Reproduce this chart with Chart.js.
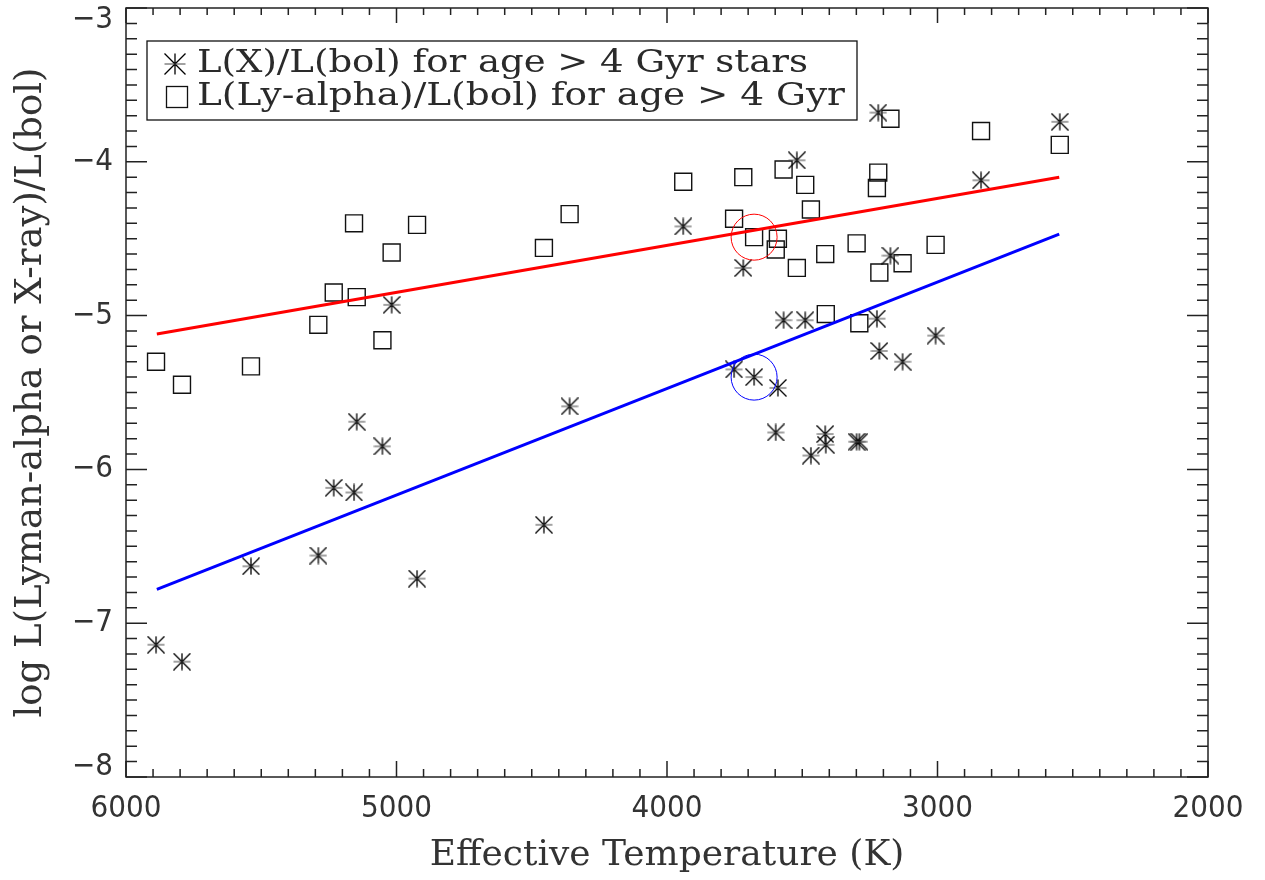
<!DOCTYPE html>
<html>
<head>
<meta charset="utf-8">
<script src="https://cdn.jsdelivr.net/npm/chart.js@4.4.1/dist/chart.umd.min.js"></script>
<style>
html, body { margin: 0; padding: 0; background: #fff; }
#wrap { width: 1265px; height: 880px; }
</style>
</head>
<body>
<div id="wrap"><canvas id="lyaChart" width="1265" height="880"></canvas></div>
<script>
// effective temperatures (K), one per star
const temps = [5889, 5793, 5538, 5289, 5232, 5157, 5147, 5052, 5018, 4924, 4455, 4360,
               3940, 3752, 3718, 3678, 3598, 3590, 3569, 3520, 3489, 3468, 3415, 3413,
               3299, 3289, 3224, 3219, 3215, 3174, 3129, 3007, 2839, 2548];
// log L(Ly-alpha)/L(bol)
const lyaRatio = [-5.30, -5.45, -5.33, -5.06, -4.85, -4.40, -4.88, -5.16, -4.59, -4.41, -4.56, -4.34,
                  -4.13, -4.37, -4.10, -4.49, -4.57, -4.50, -4.05, -4.69, -4.15, -4.31, -4.60, -4.99,
                  -4.53, -5.05, -4.17, -4.07, -4.72, -3.72, -4.66, -4.54, -3.80, -3.89];
// log L(X)/L(bol)
const xrayRatio = [-7.14, -7.25, -6.63, -6.56, -6.12, -6.15, -5.69, -5.85, -4.93, -6.71, -6.36, -5.59,
                   -4.42, -5.35, -4.69, -5.40, -5.76, -5.47, -5.03, -3.99, -5.03, -5.91, -5.77, -5.84,
                   -5.82, -5.82, -5.02, -3.68, -5.23, -4.61, -5.30, -5.13, -4.12, -3.74];
// fitted trends
const fitTemps = [5886, 2550];
const lyaFit = [-5.12, -4.10];
const xrayFit = [-6.78, -4.47];
// highlighted star
const markTemp = [3678];
const markLya = [-4.49];
const markXray = [-5.40];
const legendLabels = ['L(X)/L(bol) for age > 4 Gyr stars', 'L(Ly-alpha)/L(bol) for age > 4 Gyr'];

const tickFont = '31px "DejaVu Sans Condensed", "DejaVu Sans", sans-serif';

function makeAsterisk(size) {
    const c = document.createElement('canvas');
    c.width = size; c.height = size;
    const g = c.getContext('2d');
    const h = size / 2, e = 0.5;
    g.lineWidth = 1.3;
    g.strokeStyle = '#000';
    g.beginPath();
    g.moveTo(h, e); g.lineTo(h, size - e);
    g.moveTo(e, e); g.lineTo(size - e, size - e);
    g.moveTo(size - e, e); g.lineTo(e, size - e);
    g.stroke();
    g.strokeStyle = '#444';
    g.lineWidth = 1;
    g.beginPath();
    g.moveTo(e, h); g.lineTo(size - e, h);
    g.stroke();
    return c;
}
const star = makeAsterisk(18);
const starBig = makeAsterisk(22);

const pts = (xs, ys) => xs.map((x, i) => ({ x: x, y: ys[i] }));

const frameTicks = {
    id: 'frameTicks',
    afterDraw(chart) {
        const { ctx, chartArea: a, scales: { x, y } } = chart;
        ctx.save();
        ctx.strokeStyle = '#222';
        ctx.lineWidth = 1.5;
        ctx.strokeRect(a.left, a.top, a.right - a.left, a.bottom - a.top);
        ctx.beginPath();
        for (let t = 2000; t <= 6000; t += 100) {
            const px = x.getPixelForValue(t);
            const major = t % 1000 === 0;
            ctx.moveTo(px, a.bottom); ctx.lineTo(px, a.bottom - (major ? 16 : 8));
            ctx.moveTo(px, a.top); ctx.lineTo(px, a.top + (major ? 15 : 7));
        }
        for (let i = 0; i <= 50; i++) {
            const py = y.getPixelForValue(-8 + i / 10);
            const len = i % 10 === 0 ? 21 : 11;
            ctx.moveTo(a.left, py); ctx.lineTo(a.left + len, py);
            ctx.moveTo(a.right, py); ctx.lineTo(a.right - len, py);
        }
        ctx.stroke();

        // y tick labels, end labels kept inside the frame like the original
        ctx.fillStyle = '#333';
        ctx.font = tickFont;
        ctx.textAlign = 'right';
        ctx.textBaseline = 'middle';
        y.ticks.forEach(t => {
            const py = Math.min(Math.max(y.getPixelForValue(t.value), a.top + 12), a.bottom - 10);
            ctx.fillText('\u2212' + Math.abs(t.value), a.left - 13, py);
        });

        // legend box
        const bx = a.left + 21, by = a.top + 33, bw = 710, bh = 79;
        ctx.lineWidth = 1.3;
        ctx.strokeStyle = '#111';
        ctx.fillStyle = '#fff';
        ctx.fillRect(bx, by, bw, bh);
        ctx.strokeRect(bx, by, bw, bh);
        ctx.drawImage(starBig, bx + 28 - 11, by + 23 - 11);
        ctx.strokeRect(bx + 19.5, by + 45.5, 21, 21);
        ctx.fillStyle = '#2a2a2a';
        ctx.textAlign = 'left';
        ctx.font = '31px "DejaVu Serif Condensed", "DejaVu Serif", serif';
        const targets = [611, 648];
        legendLabels.forEach((txt, i) => {
            const w = ctx.measureText(txt).width;
            ctx.save();
            ctx.translate(bx + 50, by + 23 + i * 33);
            ctx.scale(targets[i] / w, 1);
            ctx.fillText(txt, 0, 0);
            ctx.restore();
        });
        ctx.restore();
    }
};

new Chart(document.getElementById('lyaChart'), {
    type: 'scatter',
    data: {
        datasets: [
            { label: 'xray', data: pts(temps, xrayRatio), pointStyle: star, pointRadius: 9, order: 1 },
            { label: 'lya', data: pts(temps, lyaRatio), pointStyle: 'rect', pointRadius: 12,
              borderColor: '#111', borderWidth: 1.4, backgroundColor: 'transparent', order: 2 },
            { type: 'line', label: 'lyaFit', data: pts(fitTemps, lyaFit), borderColor: '#ff0000',
              borderWidth: 3, pointRadius: 0, showLine: true, order: 0 },
            { type: 'line', label: 'xrayFit', data: pts(fitTemps, xrayFit), borderColor: '#0000ff',
              borderWidth: 3, pointRadius: 0, showLine: true, order: 0 },
            { label: 'lyaMark', data: pts(markTemp, markLya), pointStyle: 'circle', pointRadius: 23,
              borderColor: '#ff0000', borderWidth: 1, backgroundColor: 'transparent', order: 0 },
            { label: 'xrayMark', data: pts(markTemp, markXray), pointStyle: 'circle', pointRadius: 23,
              borderColor: '#0000ff', borderWidth: 1, backgroundColor: 'transparent', order: 0 }
        ]
    },
    options: {
        responsive: false,
        animation: false,
        devicePixelRatio: 1,
        layout: { autoPadding: false, padding: { left: 0, right: 57, top: 8, bottom: 0 } },
        plugins: { legend: { display: false }, tooltip: { enabled: false } },
        scales: {
            x: {
                type: 'linear', reverse: true, min: 2000, max: 6000,
                grid: { display: false, drawTicks: false }, border: { display: false },
                ticks: { stepSize: 1000, padding: 13, color: '#333',
                         font: { family: '"DejaVu Sans Condensed", "DejaVu Sans"', size: 31 },
                         callback: v => String(v) },
                title: { display: true, text: 'Effective Temperature (K)', color: '#333', padding: { top: 2, bottom: 3 },
                         font: { family: '"DejaVu Serif"', size: 36 } },
                afterFit: s => { s.height = 103; }
            },
            y: {
                min: -8, max: -3,
                grid: { display: false, drawTicks: false }, border: { display: false },
                ticks: { stepSize: 1, display: false },
                title: { display: true, text: 'log L(Lyman-alpha or X-ray)/L(bol)', color: '#333',
                         padding: { top: 9, bottom: 0 }, font: { family: '"DejaVu Serif"', size: 37 } },
                afterFit: s => { s.width = 126; }
            }
        }
    },
    plugins: [frameTicks]
});
</script>
</body>
</html>
